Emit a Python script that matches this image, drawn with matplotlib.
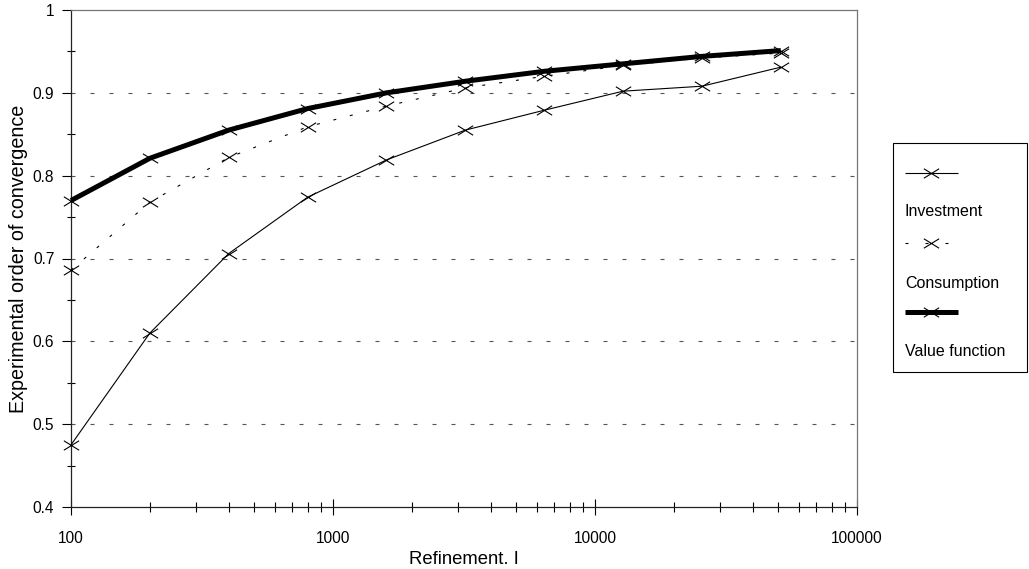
import matplotlib
matplotlib.use("Agg")
import matplotlib.pyplot as plt
from matplotlib.path import Path
from matplotlib.lines import Line2D
from matplotlib.ticker import FixedLocator, NullFormatter, LogLocator

plt.rcParams['font.family'] = ['Liberation Sans', 'DejaVu Sans']

# Grid refinement levels and experimental convergence orders
refinement = [100, 200, 400, 800, 1600, 3200, 6400, 12800, 25600, 51200]
investment = [0.475, 0.610, 0.706, 0.774, 0.819, 0.855, 0.879, 0.902, 0.908, 0.931]
consumption = [0.686, 0.768, 0.822, 0.859, 0.884, 0.906, 0.920, 0.933, 0.942, 0.948]
value_function = [0.770, 0.821, 0.855, 0.881, 0.900, 0.914, 0.926, 0.935, 0.944, 0.951]

series_labels = ["Investment", "Consumption", "Value function"]
y_ticks = [0.4, 0.5, 0.6, 0.7, 0.8, 0.9, 1.0]
y_tick_labels = ["0.4", "0.5", "0.6", "0.7", "0.8", "0.9", "1"]
x_ticks = [100, 1000, 10000, 100000]
x_tick_labels = ["100", "1000", "10000", "100000"]

# Wide, flat cross marker
cross = Path([(-1, -0.62), (1, 0.62), (-1, 0.62), (1, -0.62)],
             [Path.MOVETO, Path.LINETO, Path.MOVETO, Path.LINETO])

W, H = 1029, 569
fig = plt.figure(figsize=(W / 100, H / 100), dpi=100)
ax = fig.add_axes([71 / W, 1 - 507 / H, (857 - 71) / W, (507 - 10) / H])

styles = [
    dict(lw=0.8, ls='-'),
    dict(lw=0.8, ls=(0, (2.7, 12.6))),
    dict(lw=3.6, ls='-'),
]
for ys, st in zip([investment, consumption, value_function], styles):
    ax.plot(refinement, ys, color='black', marker=cross, markersize=11,
            markeredgewidth=0.8, markerfacecolor='none', zorder=3,
            solid_capstyle='butt', clip_on=False, **st)

ax.set_xscale('log')
ax.set_xlim(100, 100000)
ax.set_ylim(0.4, 1.0)

ax.yaxis.set_major_locator(FixedLocator(y_ticks))
ax.set_yticklabels(y_tick_labels)
ax.yaxis.set_minor_locator(FixedLocator([0.45, 0.55, 0.65, 0.75, 0.85, 0.95]))
ax.xaxis.set_major_locator(FixedLocator(x_ticks))
ax.set_xticklabels(x_tick_labels)
ax.xaxis.set_minor_locator(LogLocator(base=10, subs=range(2, 10)))
ax.xaxis.set_minor_formatter(NullFormatter())

ax.tick_params(axis='y', which='major', direction='out', length=6.5, width=0.8,
               labelsize=11.2, pad=5.5)
ax.tick_params(axis='y', which='minor', direction='inout', length=5.8, width=0.8)
ax.tick_params(axis='x', which='major', direction='inout', length=12, width=0.8,
               labelsize=11.2, pad=11)
ax.tick_params(axis='x', which='minor', direction='inout', length=6.5, width=0.8)

for y in [0.5, 0.6, 0.7, 0.8, 0.9]:
    ax.axhline(y, color='#555555', lw=0.8, ls=(0, (3.6, 13.5)), zorder=1)

for side in ['left', 'bottom']:
    ax.spines[side].set_color('#222222')
    ax.spines[side].set_linewidth(0.9)
for side in ['top', 'right']:
    ax.spines[side].set_color('#777777')
    ax.spines[side].set_linewidth(0.9)

ax.set_xlabel("Refinement. I", fontsize=13.3, va='top')
ax.xaxis.set_label_coords((464 - 71) / 786, (507 - 551) / 497)
ax.set_ylabel("Experimental order of convergence", fontsize=14.2)
ax.yaxis.set_label_coords((28 - 71) / 786, 0.5)

# Legend: line sample above each label, boxed
fig.patches.append(plt.Rectangle((893 / W, 1 - 372 / H), (1027 - 893) / W,
                                 (372 - 143) / H, transform=fig.transFigure,
                                 fill=False, edgecolor='black', lw=0.8))
legend_styles = [
    dict(lw=0.8, ls='-'),
    dict(lw=0.8, ls=(0, (2.7, 15.3))),
    dict(lw=3.6, ls='-'),
]
sample_end = [958, 950, 958]
sample_y = [173, 243, 312]
text_y = [212, 283, 352]
for st, x1, sy, ty, lab in zip(legend_styles, sample_end, sample_y, text_y, series_labels):
    yy = 1 - sy / H
    ln = Line2D([905 / W, x1 / W], [yy, yy], transform=fig.transFigure,
                color='black', solid_capstyle='butt', **st)
    fig.lines.append(ln)
    mk = Line2D([931 / W], [yy], transform=fig.transFigure, color='black',
                marker=cross, markersize=11, markeredgewidth=0.8, ls='none')
    fig.lines.append(mk)
    fig.text(905 / W, 1 - ty / H, lab, fontsize=11.5, va='center', ha='left')

fig.savefig("out.png", dpi=100)
